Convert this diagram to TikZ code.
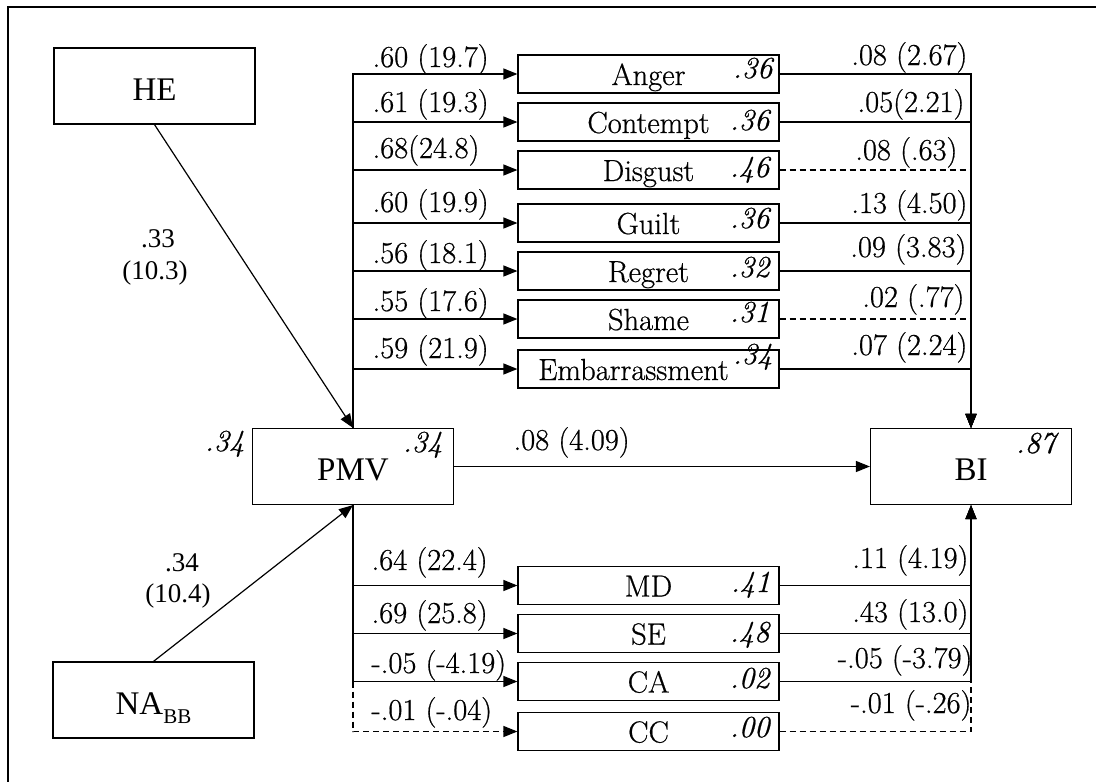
\documentclass[tikz,border=0pt]{standalone}
\usepackage{fontspec}
\newfontfamily\tnr{Liberation Serif}
\newfontfamily\cam{Latin Modern Roman}[FakeBold=0.6]
\usetikzlibrary{arrows.meta}

\begin{document}
\begin{tikzpicture}[x=1pt,y=-1pt,
  line width=1.2pt,
  arr/.style={-{Triangle[length=14pt,width=11pt]}},
  dsh/.style={dash pattern=on 6pt off 4pt},
  bigbox/.style={draw, minimum width=201pt, minimum height=76pt, inner sep=0pt,
    font=\tnr\fontsize{33}{35}\selectfont, text height=28pt, text depth=0pt},
  emobox/.style={draw, minimum width=261pt, minimum height=38pt, inner sep=0pt,
    font=\cam\fontsize{30.5}{32}\selectfont, text height=22pt, text depth=0pt},
  coefl/.style={inner sep=0pt, anchor=base west, font=\cam\fontsize{30.5}{32}\selectfont},
  coefr/.style={inner sep=0pt, anchor=base east, font=\cam\fontsize{30.5}{32}\selectfont},
  rsq/.style={inner sep=0pt, anchor=base east, font=\cam\itshape\fontsize{30.5}{32}\selectfont},
  tlab/.style={inner sep=0pt, anchor=base, font=\tnr\fontsize{27}{30}\selectfont}]

\useasboundingbox (0,0) rectangle (1096,782);

% frame
\draw[line width=1.6pt] (1096,7) -- (8,7) -- (8,782);

% main constructs
\node[bigbox] (he)  at (154.5,86)  {HE};
\node[bigbox] (na)  at (153.5,700) {NA\raisebox{-9pt}{\fontsize{21}{22}\selectfont BB}};
\node[bigbox] (pmv) at (353,466.5) {PMV};
\node[bigbox] (bi)  at (971,466.5) {BI};

% emotions
\node[emobox] (anger)    at (648.5,74)  {Anger};
\node[emobox] (contempt) at (648.5,122) {Contempt};
\node[emobox] (disgust)  at (648.5,170) {Disgust};
\node[emobox] (guilt)    at (648.5,223) {Guilt};
\node[emobox] (regret)   at (648.5,271) {Regret};
\node[emobox] (shame)    at (648.5,319) {Shame};
\node[emobox] (emb)      at (648.5,369) {Embarrassment\hspace*{30pt}};

% lower mediators
\node[emobox] (md) at (648.5,585.5) {MD};
\node[emobox] (se) at (648.5,633.5) {SE};
\node[emobox] (ca) at (648.5,681.5) {CA};
\node[emobox] (cc) at (648.5,731.5) {CC};

% predictors of PMV
\draw[arr] (he.south) -- (pmv.north);
\draw[arr] (na.north) -- (pmv.south);
\node[tlab] (l-he1) at (158,247) {.33};
\node[tlab] (l-he2) at (155,279) {(10.3)};
\node[tlab] (l-na1) at (182,571) {.34};
\node[tlab] (l-na2) at (178,602) {(10.4)};

% PMV to BI
\draw[arr] (pmv.east) -- (pmv.east -| bi.west);
\node[coefl] (c-pb) at (513,450) {.08 (4.09)};

% PMV to mediators
\foreach \n in {anger,contempt,disgust,guilt,regret,shame,emb}
  \draw[arr] (pmv.north) |- (\n.west);
\foreach \n in {md,se,ca}
  \draw[arr] (pmv.south) |- (\n.west);
\draw[arr,dsh] (pmv.south |- ca.west) |- (cc.west);

% mediators to BI
\foreach \n in {anger,contempt,guilt,regret,emb}
  \draw[arr] (\n.east) -| (bi.north);
\draw[dsh] (disgust.east) -- (disgust.east -| bi.north);
\draw[dsh] (shame.east) -- (shame.east -| bi.north);
\foreach \n in {md,se,ca}
  \draw[arr] (\n.east) -| (bi.south);
\draw[dsh] (cc.east) -| (ca.east -| bi.south);

% path coefficients, PMV side
\node[coefl] (a1) at (372,67)  {.60 (19.7)};
\node[coefl] (a2) at (372,112) {.61 (19.3)};
\node[coefl] (a3) at (372,158) {.68(24.8)};
\node[coefl] (a4) at (372,212) {.60 (19.9)};
\node[coefl] (a5) at (372,263) {.56 (18.1)};
\node[coefl] (a6) at (372,311) {.55 (17.6)};
\node[coefl] (a7) at (372,358) {.59 (21.9)};
\node[coefl] (a8) at (371,570) {.64 (22.4)};
\node[coefl] (a9) at (371,623) {.69 (25.8)};
\node[coefl] (a10) at (371,673) {-.05 (-4.19)};
\node[coefl] (a11) at (371,720) {-.01 (-.04)};

% path coefficients, BI side
\node[coefr] (b1) at (968,65)  {.08 (2.67)};
\node[coefr] (b2) at (965,112) {.05(2.21)};
\node[coefr] (b3) at (958,160) {.08 (.63)};
\node[coefr] (b4) at (968,213) {.13 (4.50)};
\node[coefr] (b5) at (967,257) {.09 (3.83)};
\node[coefr] (b6) at (965,307) {.02 (.77)};
\node[coefr] (b7) at (968,355) {.07 (2.24)};
\node[coefr] (b8) at (969,568) {.11 (4.19)};
\node[coefr] (b9) at (969,622) {.43 (13.0)};
\node[coefr] (b10) at (973,668) {-.05 (-3.79)};
\node[coefr] (b11) at (972,713) {-.01 (-.26)};

% explained variance
\node[rsq] (r1) at (773,78)  {.36};
\node[rsq] (r2) at (770,130) {.36};
\node[rsq] (r3) at (770,177) {.46};
\node[rsq] (r4) at (770,228) {.36};
\node[rsq] (r5) at (770,277) {.32};
\node[rsq] (r6) at (770,322) {.31};
\node[rsq] (r7) at (773,364) {.34};
\node[rsq] (r8) at (771,592) {.41};
\node[rsq] (r9) at (770,642) {.48};
\node[rsq] (r10) at (770,688) {.02};
\node[rsq] (r11) at (770,737) {.00};
\node[rsq] (r12) at (245,451) {.34};
\node[rsq] (r13) at (443,452) {.34};
\node[rsq] (r14) at (1056,453) {.87};

\end{tikzpicture}
\end{document}
